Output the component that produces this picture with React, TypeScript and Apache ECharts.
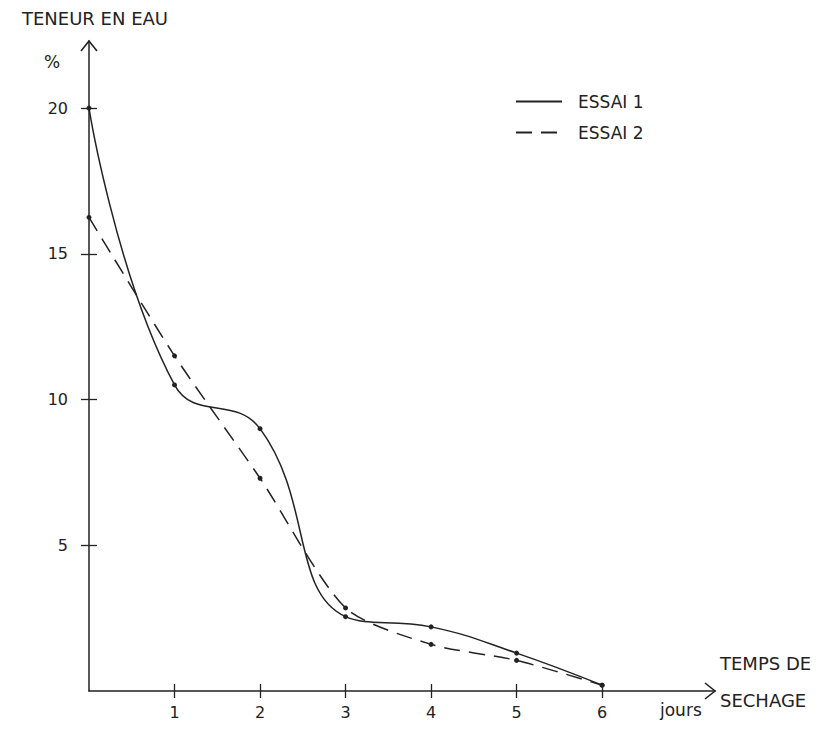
import React, { useEffect, useRef } from "react";
import * as echarts from "echarts";

const days = [0, 1, 2, 3, 4, 5, 6];
const essai1 = [20, 10.5, 9.0, 2.55, 2.2, 1.3, 0.2];
const essai2 = [16.25, 11.5, 7.3, 2.85, 1.6, 1.05, 0.2];
const xTicks = [1, 2, 3, 4, 5, 6];
const yTicks = [5, 10, 15, 20];

const FONT = "DejaVu Sans";
const INK = "#222222";
const X_MAX = 7.32;
const Y_MAX = 22.3;

export default function App() {
  const ref = useRef<HTMLDivElement>(null);
  useEffect(() => {
    if (!ref.current) return;
    const chart = echarts.init(ref.current, null, { renderer: "svg" });
    const baseX = {
      type: "value" as const,
      min: 0,
      max: X_MAX,
      interval: 1,
      splitLine: { show: false },
    };
    const baseY = {
      type: "value" as const,
      min: 0,
      max: Y_MAX,
      interval: 5,
      splitLine: { show: false },
    };
    const txt = { fontFamily: FONT, fontSize: 16, color: INK };
    chart.setOption({
      animation: false,
      backgroundColor: "#ffffff",
      textStyle: { fontFamily: FONT, color: INK },
      grid: {
        left: 89,
        right: 109,
        top: 41,
        bottom: 40,
        containLabel: false,
        outerBoundsMode: "none",
      },
      legend: {
        orient: "vertical",
        left: 510,
        top: 88,
        itemWidth: 46,
        itemHeight: 14,
        itemGap: 14,
        itemStyle: { opacity: 0 },
        textStyle: { ...txt, fontSize: 17, padding: [0, 0, 0, 11] },
        data: ["ESSAI 1", "ESSAI 2"],
      },
      xAxis: [
        {
          ...baseX,
          position: "bottom",
          name: "TEMPS DE\n\nSECHAGE\n",
          nameLocation: "end",
          nameGap: 5,
          nameTextStyle: { ...txt, fontSize: 18, lineHeight: 18.5, align: "left" },
          axisLine: { show: true, lineStyle: { color: INK, width: 1.5 } },
          axisTick: {
            show: true,
            length: 7,
            customValues: xTicks,
            lineStyle: { color: INK, width: 1.3 },
          },
          axisLabel: { show: true, margin: 13, ...txt, customValues: xTicks },
        },
        {
          ...baseX,
          position: "bottom",
          offset: 0,
          axisLine: { show: false },
          axisTick: {
            show: true,
            inside: true,
            length: 7,
            customValues: xTicks,
            lineStyle: { color: INK, width: 1.3 },
          },
          axisLabel: { show: false },
        },
      ],
      yAxis: [
        {
          ...baseY,
          position: "left",
          name: "TENEUR EN EAU",
          nameLocation: "end",
          nameGap: 14,
          nameTextStyle: { ...txt, fontSize: 18, padding: [0, 0, 0, 12] },
          axisLine: { show: true, lineStyle: { color: INK, width: 1.5 } },
          axisTick: {
            show: true,
            length: 8,
            customValues: yTicks,
            lineStyle: { color: INK, width: 1.3 },
          },
          axisLabel: { show: true, margin: 21, ...txt, customValues: yTicks },
        },
        {
          ...baseY,
          position: "left",
          offset: 0,
          axisLine: { show: false },
          axisTick: {
            show: true,
            inside: true,
            length: 8,
            customValues: yTicks,
            lineStyle: { color: INK, width: 1.3 },
          },
          axisLabel: { show: false },
        },
      ],
      series: [
        {
          name: "ESSAI 1",
          type: "line",
          xAxisIndex: 0,
          yAxisIndex: 0,
          smooth: 0.45,
          symbol: "circle",
          symbolSize: 5,
          itemStyle: { color: INK },
          lineStyle: { color: INK, width: 1.5, type: "solid" },
          data: days.map((d, i) => [d, essai1[i]]),
        },
        {
          name: "ESSAI 2",
          type: "line",
          xAxisIndex: 0,
          yAxisIndex: 0,
          smooth: 0.25,
          symbol: "circle",
          symbolSize: 5,
          itemStyle: { color: INK },
          lineStyle: { color: INK, width: 1.5, type: [16, 9] },
          data: days.map((d, i) => [d, essai2[i]]),
        },
      ],
    });

    const xEnd = chart.convertToPixel({ gridIndex: 0 }, [X_MAX, 0]) as number[];
    const yEnd = chart.convertToPixel({ gridIndex: 0 }, [0, Y_MAX]) as number[];
    const pct = chart.convertToPixel({ gridIndex: 0 }, [0, 20]) as number[];
    const lineStyle = { stroke: INK, lineWidth: 1.6, fill: "none" };
    chart.setOption({
      graphic: [
        {
          type: "polyline",
          shape: {
            points: [
              [xEnd[0] - 10, xEnd[1] - 8],
              [xEnd[0], xEnd[1]],
              [xEnd[0] - 10, xEnd[1] + 8],
            ],
          },
          style: lineStyle,
        },
        {
          type: "polyline",
          shape: {
            points: [
              [yEnd[0] - 8, yEnd[1] + 10],
              [yEnd[0], yEnd[1]],
              [yEnd[0] + 8, yEnd[1] + 10],
            ],
          },
          style: lineStyle,
        },
        {
          type: "text",
          x: pct[0] - 37,
          y: pct[1] - 46,
          style: {
            text: "%",
            font: `17px "${FONT}"`,
            fill: INK,
            align: "center",
            verticalAlign: "middle",
          },
        },
        {
          type: "text",
          x: xEnd[0] - 55,
          y: xEnd[1] + 19,
          style: {
            text: "jours",
            font: `17px "${FONT}"`,
            fill: INK,
            align: "left",
            verticalAlign: "middle",
          },
        },
      ],
    });
    return () => chart.dispose();
  }, []);
  return (
    <div
      ref={ref}
      style={{ position: "fixed", left: 0, top: 0, width: 824, height: 731, background: "#fff" }}
    />
  );
}
